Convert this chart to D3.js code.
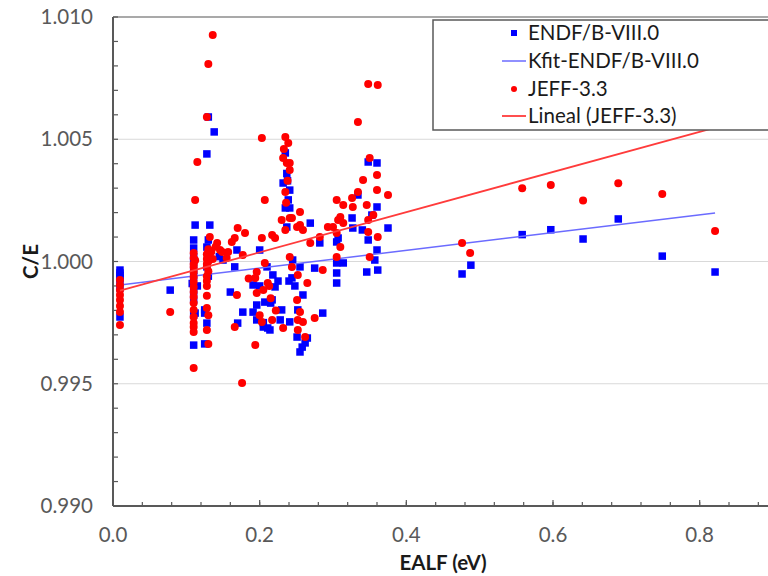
<!DOCTYPE html>
<html>
<head>
<meta charset="utf-8">
<script src="https://cdn.jsdelivr.net/npm/d3@7"></script>
<style>
  body { margin: 0; background: #fff; }
  svg { display: block; font-family: Lato, "Open Sans", sans-serif; }
</style>
</head>
<body>
<svg id="chart" width="768" height="576"></svg>
<script>
// ENDF/B-VIII.0 points [EALF, C/E]
const endfPoints = [
  [0.0095, 0.99965], [0.0095, 0.99953], [0.0095, 0.99943], [0.0095, 0.99933], [0.0095, 0.99916], [0.0095, 0.99892], [0.0095, 0.99773],
  [0.078, 0.99883],
  [0.112, 1.00149], [0.110, 1.00088], [0.110, 1.00055], [0.110, 1.00020], [0.110, 0.99998], [0.110, 0.99965], [0.110, 0.99937],
  [0.108, 0.99910], [0.110, 0.99875], [0.110, 0.99843], [0.112, 0.99789], [0.110, 0.99781], [0.110, 0.99658], [0.115, 0.99900],
  [0.130, 1.00591], [0.138, 1.00530], [0.128, 1.00440], [0.132, 1.00149], [0.130, 1.00088], [0.128, 1.00059], [0.132, 1.00030],
  [0.128, 0.99978], [0.130, 0.99940], [0.125, 0.99802], [0.125, 0.99789], [0.128, 0.99748], [0.125, 0.99663],
  [0.150, 1.00006], [0.166, 0.99978], [0.160, 0.99875], [0.177, 0.99793], [0.170, 0.99748], [0.169, 1.00047], [0.145, 1.00020],
  [0.200, 1.00047], [0.210, 0.99978], [0.218, 0.99945], [0.191, 0.99904], [0.221, 0.99896], [0.207, 0.99834], [0.217, 0.99843],
  [0.196, 0.99822], [0.191, 0.99793], [0.196, 0.99761], [0.211, 0.99728], [0.205, 0.99732], [0.214, 0.99720], [0.230, 0.99802],
  [0.228, 0.99761], [0.241, 0.99753], [0.200, 0.99900], [0.215, 0.99830], [0.205, 0.99750], [0.225, 0.99920], [0.248, 0.99900],
  [0.240, 0.99920],
  [0.235, 1.00444], [0.237, 1.00360], [0.232, 1.00321], [0.241, 1.00292], [0.239, 1.00252], [0.235, 1.00219], [0.241, 1.00219],
  [0.237, 1.00141], [0.269, 1.00157], [0.238, 1.00330],
  [0.245, 1.00006], [0.255, 0.99978], [0.244, 0.99933], [0.259, 0.99863], [0.252, 0.99802], [0.286, 0.99789], [0.251, 0.99691],
  [0.265, 0.99687], [0.258, 0.99650], [0.255, 0.99630], [0.262, 0.99667],
  [0.275, 0.99973], [0.305, 0.99994], [0.314, 0.99994], [0.305, 0.99953], [0.305, 0.99912], [0.305, 1.00080], [0.307, 1.00096],
  [0.326, 1.00178], [0.334, 1.00272], [0.348, 1.00407], [0.360, 1.00403], [0.360, 1.00223], [0.353, 1.00190], [0.340, 1.00129],
  [0.348, 1.00088], [0.360, 1.00047], [0.357, 1.00006], [0.346, 0.99957], [0.361, 0.99965], [0.375, 1.00137], [0.327, 1.00137],
  [0.282, 1.00076],
  [0.476, 0.99949], [0.488, 0.99985], [0.558, 1.00110], [0.597, 1.00130], [0.641, 1.00092], [0.689, 1.00174], [0.749, 1.00022],
  [0.821, 0.99957]
];

// JEFF-3.3 points [EALF, C/E]
const jeffPoints = [
  [0.0095, 0.99924], [0.0095, 0.99904], [0.0095, 0.99883], [0.0095, 0.99863], [0.0095, 0.99843], [0.0095, 0.99818], [0.0095, 0.99793],
  [0.0095, 0.99740],
  [0.078, 0.99793],
  [0.115, 1.00407], [0.112, 1.00252], [0.110, 1.00035], [0.110, 1.00014], [0.110, 0.99990], [0.110, 0.99978], [0.110, 0.99957],
  [0.110, 0.99937], [0.110, 0.99916], [0.110, 0.99896], [0.110, 0.99875], [0.110, 0.99855], [0.110, 0.99830], [0.110, 0.99802],
  [0.110, 0.99773], [0.110, 0.99748], [0.110, 0.99732], [0.110, 0.99712], [0.110, 0.99564], [0.112, 1.00005],
  [0.136, 1.00926], [0.130, 1.00808], [0.128, 1.00591], [0.132, 1.00100], [0.130, 1.00050], [0.128, 1.00030], [0.130, 1.00020],
  [0.128, 1.00010], [0.130, 1.00000], [0.128, 0.99990], [0.128, 0.99980], [0.130, 0.99960], [0.128, 0.99940], [0.128, 0.99920],
  [0.128, 0.99900], [0.128, 0.99860], [0.128, 0.99810], [0.130, 0.99780], [0.128, 0.99720], [0.130, 0.99663], [0.134, 1.00040],
  [0.136, 1.00010],
  [0.142, 1.00076], [0.146, 1.00047], [0.157, 1.00039], [0.169, 0.99863], [0.166, 0.99732], [0.170, 1.00137], [0.180, 1.00117],
  [0.166, 1.00096], [0.162, 1.00080], [0.177, 1.00027], [0.176, 0.99503], [0.149, 1.00039], [0.155, 1.00014], [0.140, 1.00060],
  [0.203, 1.00505], [0.207, 1.00252], [0.203, 1.00096], [0.217, 1.00108], [0.221, 1.00096], [0.207, 0.99994], [0.196, 0.99957],
  [0.194, 0.99933], [0.211, 0.99912], [0.205, 0.99883], [0.196, 0.99871], [0.203, 0.99753], [0.217, 0.99761], [0.232, 0.99728],
  [0.194, 0.99658], [0.215, 0.99850], [0.222, 0.99800], [0.200, 0.99780], [0.213, 0.99900], [0.185, 0.99930],
  [0.235, 1.00509], [0.239, 1.00485], [0.232, 1.00423], [0.237, 1.00403], [0.241, 1.00374], [0.235, 1.00284], [0.230, 1.00170],
  [0.241, 1.00178], [0.235, 1.00129], [0.255, 1.00202], [0.244, 1.00178], [0.251, 1.00141], [0.259, 1.00129], [0.241, 1.00403],
  [0.233, 1.00460], [0.238, 1.00330], [0.236, 1.00240],
  [0.241, 1.00018], [0.244, 0.99978], [0.252, 0.99945], [0.265, 0.99912], [0.251, 0.99843], [0.255, 0.99793], [0.252, 0.99761],
  [0.259, 0.99753], [0.275, 0.99769], [0.252, 0.99720], [0.262, 0.99691],
  [0.286, 0.99965], [0.305, 1.00018], [0.310, 1.00059], [0.305, 1.00117], [0.300, 1.00141], [0.307, 1.00170], [0.310, 1.00182],
  [0.314, 1.00157], [0.305, 1.00252], [0.314, 1.00231], [0.326, 1.00260], [0.327, 1.00223], [0.346, 1.00231], [0.334, 1.00284],
  [0.341, 1.00333], [0.350, 1.00423], [0.360, 1.00354], [0.360, 1.00292], [0.375, 1.00272], [0.355, 1.00190], [0.348, 1.00170],
  [0.348, 1.00121], [0.361, 1.00100], [0.350, 1.00018], [0.334, 1.00571], [0.348, 1.00726], [0.361, 1.00722], [0.269, 1.00076],
  [0.282, 1.00100], [0.293, 1.00141], [0.255, 1.00149],
  [0.476, 1.00076], [0.487, 1.00035], [0.558, 1.00300], [0.597, 1.00313], [0.641, 1.00250], [0.689, 1.00320], [0.749, 1.00276],
  [0.821, 1.00125]
];

// trend lines (end points)
const kfitX = [0.0095, 0.821];
const kfitY = [0.99904, 1.00198];
const linealX = [0.0095, 0.821];
const linealY = [0.99881, 1.00548];

const xTicks = [0.0, 0.2, 0.4, 0.6, 0.8];
const yTicks = [0.990, 0.995, 1.000, 1.005, 1.010];
const legendLabels = ["ENDF/B-VIII.0", "Kfit-ENDF/B-VIII.0", "JEFF-3.3", "Lineal (JEFF-3.3)"];

const svg = d3.select("#chart");
const plotLeft = 113, plotRight = 773, plotTop = 17, plotBottom = 506;

const x = d3.scaleLinear().domain([0, 0.9]).range([plotLeft, plotRight]);
const y = d3.scaleLinear().domain([0.990, 1.010]).range([plotBottom, plotTop]);

const axisColor = "#595959";

// gridlines
svg.append("g")
  .selectAll("line")
  .data(yTicks.slice(1, -1))
  .join("line")
  .attr("x1", plotLeft).attr("x2", plotRight)
  .attr("y1", d => y(d)).attr("y2", d => y(d))
  .attr("stroke", "#d9d9d9").attr("stroke-width", 1.2);

// top border line
svg.append("line")
  .attr("x1", plotLeft).attr("x2", plotRight)
  .attr("y1", y(1.010)).attr("y2", y(1.010))
  .attr("stroke", "#8c8c8c").attr("stroke-width", 1.5);

// minor ticks
const yMinor = d3.range(0, 21).map(i => 0.990 + i * 0.001);
svg.append("g")
  .selectAll("line")
  .data(yMinor)
  .join("line")
  .attr("x1", plotLeft).attr("x2", plotLeft + 5)
  .attr("y1", d => y(d)).attr("y2", d => y(d))
  .attr("stroke", axisColor).attr("stroke-width", 1.2);

const xMinor = d3.range(0, 23).map(i => i * 0.04);
svg.append("g")
  .selectAll("line")
  .data(xMinor)
  .join("line")
  .attr("x1", d => x(d)).attr("x2", d => x(d))
  .attr("y1", plotBottom).attr("y2", plotBottom - 4)
  .attr("stroke", axisColor).attr("stroke-width", 1.2);

svg.append("g")
  .selectAll("line")
  .data(xTicks)
  .join("line")
  .attr("x1", d => x(d)).attr("x2", d => x(d))
  .attr("y1", plotBottom).attr("y2", plotBottom - 6)
  .attr("stroke", axisColor).attr("stroke-width", 1.2);

// axis lines
svg.append("line")
  .attr("x1", plotLeft).attr("x2", plotLeft)
  .attr("y1", plotTop).attr("y2", plotBottom)
  .attr("stroke", axisColor).attr("stroke-width", 2);
svg.append("line")
  .attr("x1", plotLeft).attr("x2", plotRight)
  .attr("y1", plotBottom).attr("y2", plotBottom)
  .attr("stroke", axisColor).attr("stroke-width", 2);

// tick labels
svg.append("g")
  .selectAll("text")
  .data(yTicks)
  .join("text")
  .attr("x", 93)
  .attr("y", d => y(d))
  .attr("dy", "0.35em")
  .attr("text-anchor", "end")
  .attr("font-size", 20.5)
  .attr("fill", axisColor)
  .text(d => d3.format(".3f")(d));

svg.append("g")
  .selectAll("text")
  .data(xTicks)
  .join("text")
  .attr("x", d => x(d))
  .attr("y", 542)
  .attr("text-anchor", "middle")
  .attr("font-size", 20.5)
  .attr("fill", axisColor)
  .text(d => d3.format(".1f")(d));

// axis titles
svg.append("text")
  .attr("x", x(0.45)).attr("y", 570)
  .attr("text-anchor", "middle")
  .attr("font-size", 20.5).attr("font-weight", "bold")
  .attr("fill", "#1a1a1a")
  .text("EALF (eV)");

svg.append("text")
  .attr("transform", `translate(38,${y(1.000)}) rotate(-90)`)
  .attr("text-anchor", "middle")
  .attr("font-size", 20.5).attr("font-weight", "bold")
  .attr("fill", "#1a1a1a")
  .text("C/E");

const line = d3.line().x(d => x(d[0])).y(d => y(d[1]));

// ENDF squares
svg.append("g")
  .selectAll("rect")
  .data(endfPoints)
  .join("rect")
  .attr("x", d => x(d[0]) - 3.75)
  .attr("y", d => y(d[1]) - 3.75)
  .attr("width", 7.5).attr("height", 7.5)
  .attr("fill", "#0000ff");

// Kfit line
svg.append("path")
  .datum(d3.zip(kfitX, kfitY))
  .attr("d", line)
  .attr("fill", "none")
  .attr("stroke", "#6b6bff")
  .attr("stroke-width", 1.5);

// JEFF circles
svg.append("g")
  .selectAll("circle")
  .data(jeffPoints)
  .join("circle")
  .attr("cx", d => x(d[0]))
  .attr("cy", d => y(d[1]))
  .attr("r", 4)
  .attr("fill", "#ff0000");

// Lineal line
svg.append("path")
  .datum(d3.zip(linealX, linealY))
  .attr("d", line)
  .attr("fill", "none")
  .attr("stroke", "#ff3b3b")
  .attr("stroke-width", 1.8);

// legend
const lg = svg.append("g");
lg.append("rect")
  .attr("x", 433).attr("y", 20)
  .attr("width", 360).attr("height", 110)
  .attr("fill", "#fff")
  .attr("stroke", "#595959").attr("stroke-width", 1.5);

const rowY = [33, 61, 89, 116];
lg.append("rect").attr("x", 511).attr("y", rowY[0] - 3).attr("width", 6).attr("height", 6).attr("fill", "#0000ff");
lg.append("line").attr("x1", 502).attr("x2", 526).attr("y1", rowY[1]).attr("y2", rowY[1])
  .attr("stroke", "#6b6bff").attr("stroke-width", 1.5);
lg.append("circle").attr("cx", 514).attr("cy", rowY[2]).attr("r", 3).attr("fill", "#ff0000");
lg.append("line").attr("x1", 502).attr("x2", 526).attr("y1", rowY[3]).attr("y2", rowY[3])
  .attr("stroke", "#ff3b3b").attr("stroke-width", 1.8);

lg.selectAll("text.lab")
  .data(legendLabels)
  .join("text")
  .attr("class", "lab")
  .attr("x", 528)
  .attr("y", (d, i) => rowY[i])
  .attr("dy", "0.35em")
  .attr("font-size", 20.5)
  .attr("fill", "#1a1a1a")
  .text(d => d);
</script>
</body>
</html>
